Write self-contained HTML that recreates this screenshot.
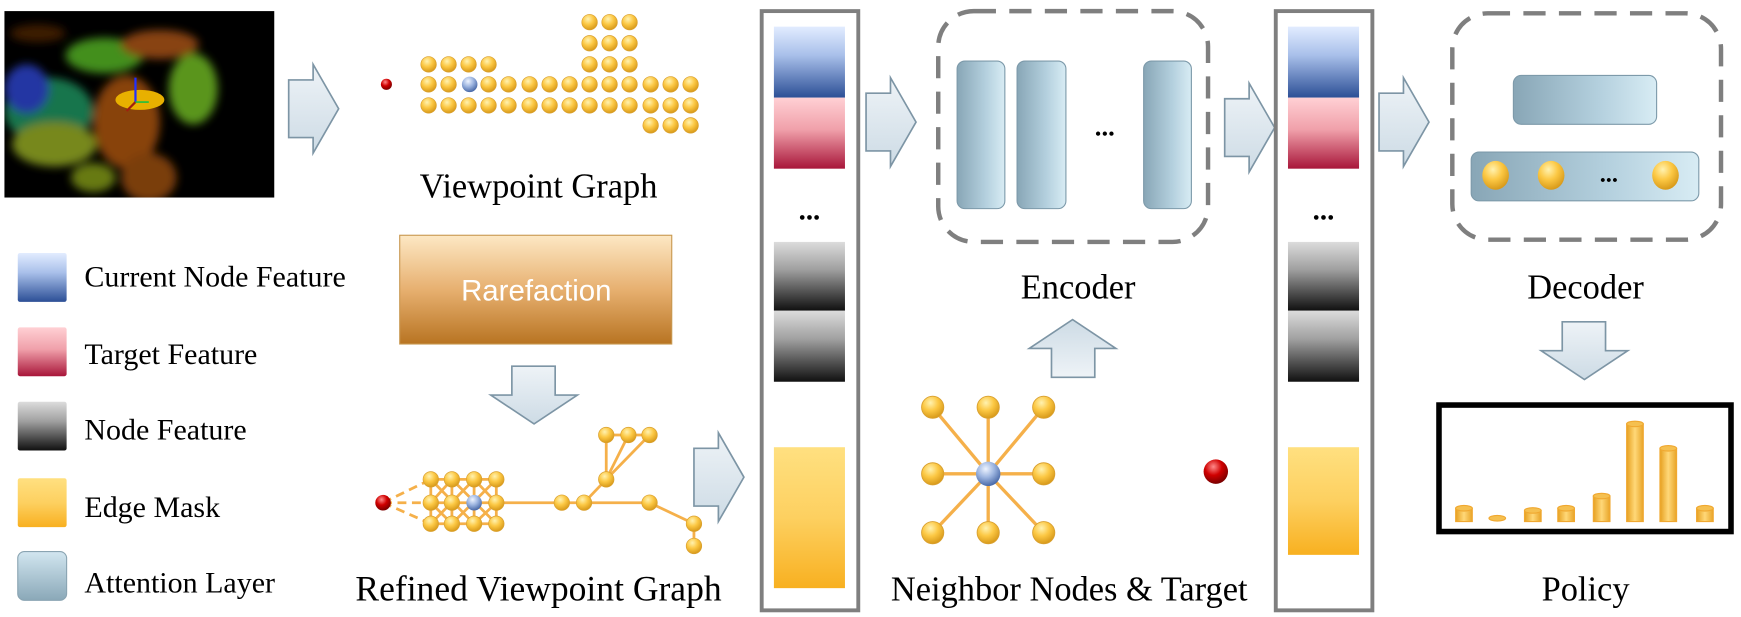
<!DOCTYPE html>
<html><head><meta charset="utf-8"><style>
html,body{margin:0;padding:0;background:#fff;width:1741px;height:617px;overflow:hidden}
svg{display:block}
text{font-family:"Liberation Serif",serif;fill:#000}
</style></head><body>
<svg width="1741" height="617" viewBox="0 0 1568 556" preserveAspectRatio="none" xmlns="http://www.w3.org/2000/svg">
<defs>
<radialGradient id="gy" cx="0.4" cy="0.3" r="0.7"><stop offset="0" stop-color="#fff2b0"/><stop offset="0.5" stop-color="#fcc844"/><stop offset="1" stop-color="#d89a1a"/></radialGradient>
<radialGradient id="gb" cx="0.4" cy="0.3" r="0.7"><stop offset="0" stop-color="#eef4ff"/><stop offset="0.5" stop-color="#9db5e0"/><stop offset="1" stop-color="#4a6aa8"/></radialGradient>
<radialGradient id="gr" cx="0.4" cy="0.3" r="0.7"><stop offset="0" stop-color="#ff8a8a"/><stop offset="0.5" stop-color="#d00000"/><stop offset="1" stop-color="#7a0000"/></radialGradient>
<linearGradient id="lblue" x1="0" y1="0" x2="0" y2="1"><stop offset="0" stop-color="#e2ecff"/><stop offset="0.4" stop-color="#a9c0ea"/><stop offset="1" stop-color="#2c4f96"/></linearGradient>
<linearGradient id="lpink" x1="0" y1="0" x2="0" y2="1"><stop offset="0" stop-color="#ffd0d4"/><stop offset="0.45" stop-color="#f0a0aa"/><stop offset="1" stop-color="#a8163a"/></linearGradient>
<linearGradient id="lgray" x1="0" y1="0" x2="0" y2="1"><stop offset="0" stop-color="#dcdcdc"/><stop offset="0.4" stop-color="#a0a0a0"/><stop offset="1" stop-color="#101010"/></linearGradient>
<linearGradient id="lyel" x1="0" y1="0" x2="0" y2="1"><stop offset="0" stop-color="#ffe080"/><stop offset="0.5" stop-color="#fdd060"/><stop offset="1" stop-color="#f8b020"/></linearGradient>
<linearGradient id="latt" x1="0" y1="0" x2="1" y2="0"><stop offset="0" stop-color="#88a6b6"/><stop offset="0.6" stop-color="#b4d0de"/><stop offset="1" stop-color="#d8ecf4"/></linearGradient>
<linearGradient id="latv" x1="0" y1="0" x2="0" y2="1"><stop offset="0" stop-color="#d2e6f0"/><stop offset="1" stop-color="#8aa8b8"/></linearGradient>
<linearGradient id="lor" x1="0" y1="0" x2="0" y2="1"><stop offset="0" stop-color="#fde8c4"/><stop offset="0.5" stop-color="#e7b070"/><stop offset="1" stop-color="#b87422"/></linearGradient>
<linearGradient id="larr" x1="0" y1="0" x2="0" y2="1"><stop offset="0" stop-color="#eef3f7"/><stop offset="1" stop-color="#cddbe5"/></linearGradient>
<linearGradient id="cyl" x1="0" y1="0" x2="1" y2="0"><stop offset="0" stop-color="#e6a020"/><stop offset="0.5" stop-color="#ffd878"/><stop offset="1" stop-color="#e8a428"/></linearGradient>
<filter id="bl" x="-20%" y="-20%" width="140%" height="140%"><feGaussianBlur stdDeviation="4"/></filter>
<g id="ny"><circle r="7" fill="url(#gy)" stroke="#d9a030" stroke-width="0.6"/></g>
<g id="nyb"><circle r="10" fill="url(#gy)" stroke="#d9a030" stroke-width="0.8"/></g>
<path id="arR" d="M0,14 H22 V0 L45,40 L22,80 V66 H0 Z" fill="url(#larr)" stroke="#7d95a5" stroke-width="1.5"/>
<path id="arD" d="M19,0 H58 V26 H78 L39,52 L0,26 H19 Z" fill="url(#larr)" stroke="#7d95a5" stroke-width="1.5"/>
</defs>

<!-- point cloud -->
<rect x="4" y="10" width="243" height="168" fill="#000"/>
<svg x="4" y="10" width="243" height="168" viewBox="0 0 243 168">
<g filter="url(#bl)" opacity="0.85">
<ellipse cx="40" cy="90" rx="40" ry="30" fill="#1a8a5a"/>
<ellipse cx="20" cy="70" rx="20" ry="22" fill="#2a40c0"/>
<ellipse cx="45" cy="120" rx="38" ry="20" fill="#8ca020"/>
<ellipse cx="110" cy="100" rx="30" ry="42" fill="#a05010"/>
<ellipse cx="130" cy="150" rx="25" ry="22" fill="#904810"/>
<ellipse cx="90" cy="40" rx="35" ry="16" fill="#50a820"/>
<ellipse cx="170" cy="70" rx="22" ry="32" fill="#6ab020"/>
<ellipse cx="140" cy="30" rx="35" ry="13" fill="#a05018"/>
<ellipse cx="30" cy="20" rx="25" ry="8" fill="#4a2206"/>
<ellipse cx="80" cy="150" rx="20" ry="13" fill="#7a9018"/>
</g>
<ellipse cx="122" cy="80" rx="22" ry="9" fill="#e8b000"/>
<line x1="118" y1="60" x2="118" y2="82" stroke="#2030ff" stroke-width="2"/>
<line x1="118" y1="82" x2="110" y2="90" stroke="#a02010" stroke-width="2"/>
<line x1="118" y1="82" x2="130" y2="82" stroke="#20c040" stroke-width="1.5"/>
</svg>

<use href="#arR" x="260" y="58"/>

<!-- viewpoint graph -->
<circle cx="348" cy="76" r="5" fill="url(#gr)"/>
<g>
<use href="#ny" x="386" y="58"/><use href="#ny" x="404" y="58"/><use href="#ny" x="422" y="58"/><use href="#ny" x="440" y="58"/>
<use href="#ny" x="531" y="20"/><use href="#ny" x="549" y="20"/><use href="#ny" x="567" y="20"/>
<use href="#ny" x="531" y="39"/><use href="#ny" x="549" y="39"/><use href="#ny" x="567" y="39"/>
<use href="#ny" x="531" y="58"/><use href="#ny" x="549" y="58"/><use href="#ny" x="567" y="58"/>
<use href="#ny" x="586" y="113"/><use href="#ny" x="604" y="113"/><use href="#ny" x="622" y="113"/>
<use href="#ny" x="386" y="76"/><use href="#ny" x="404" y="76"/><circle cx="423" cy="76" r="7" fill="url(#gb)"/><use href="#ny" x="440" y="76"/><use href="#ny" x="458" y="76"/><use href="#ny" x="477" y="76"/><use href="#ny" x="495" y="76"/><use href="#ny" x="513" y="76"/><use href="#ny" x="531" y="76"/><use href="#ny" x="549" y="76"/><use href="#ny" x="567" y="76"/><use href="#ny" x="586" y="76"/><use href="#ny" x="604" y="76"/><use href="#ny" x="622" y="76"/>
<use href="#ny" x="386" y="95"/><use href="#ny" x="404" y="95"/><use href="#ny" x="422" y="95"/><use href="#ny" x="440" y="95"/><use href="#ny" x="458" y="95"/><use href="#ny" x="477" y="95"/><use href="#ny" x="495" y="95"/><use href="#ny" x="513" y="95"/><use href="#ny" x="531" y="95"/><use href="#ny" x="549" y="95"/><use href="#ny" x="567" y="95"/><use href="#ny" x="586" y="95"/><use href="#ny" x="604" y="95"/><use href="#ny" x="622" y="95"/>
</g>
<text x="485" y="178" font-size="31" text-anchor="middle">Viewpoint Graph</text>

<!-- legend -->
<rect x="16" y="228" width="44" height="44" rx="2" fill="url(#lblue)"/>
<rect x="16" y="295" width="44" height="44" rx="2" fill="url(#lpink)"/>
<rect x="16" y="362" width="44" height="44" rx="2" fill="url(#lgray)"/>
<rect x="16" y="431" width="44" height="44" rx="2" fill="url(#lyel)"/>
<rect x="16" y="497" width="44" height="44" rx="6" fill="url(#latv)" stroke="#8aa4b2"/>
<text x="76" y="258" font-size="27">Current Node Feature</text>
<text x="76" y="328" font-size="27">Target Feature</text>
<text x="76" y="396" font-size="27">Node Feature</text>
<text x="76" y="466" font-size="27">Edge Mask</text>
<text x="76" y="534" font-size="27">Attention Layer</text>

<!-- rarefaction -->
<rect x="360" y="212" width="245" height="98" fill="url(#lor)" stroke="#c89850"/>
<text x="483" y="271" font-size="26.5" text-anchor="middle" style="font-family:'Liberation Sans',sans-serif;fill:#fff">Rarefaction</text>
<use href="#arD" x="442" y="330"/>

<!-- refined graph -->
<g stroke="#f5b04a" stroke-width="2.5" fill="none">
<path d="M345,453 L388,432 M345,453 L388,453 M345,453 L388,472" stroke-dasharray="8,5"/>
<path d="M388,432 H447 M388,453 H585 M388,472 H447 M388,432 V472 M407,432 V472 M427,432 V472 M447,432 V472"/>
<path d="M388,432 L427,472 M407,432 L447,472 M427,432 L447,453 M388,453 L407,472 M407,432 L388,453 M427,432 L388,472 M447,432 L407,472 M447,453 L427,472"/>
<path d="M526,453 L546,432 L546,392 M546,432 L566,392 M546,432 L585,392 M546,392 H585 M585,453 L625,472 V492"/>
</g>
<circle cx="345" cy="453" r="7" fill="url(#gr)"/>
<use href="#ny" x="388" y="432"/><use href="#ny" x="407" y="432"/><use href="#ny" x="427" y="432"/><use href="#ny" x="447" y="432"/>
<use href="#ny" x="388" y="453"/><use href="#ny" x="407" y="453"/><circle cx="427" cy="453" r="7" fill="url(#gb)"/><use href="#ny" x="447" y="453"/>
<use href="#ny" x="388" y="472"/><use href="#ny" x="407" y="472"/><use href="#ny" x="427" y="472"/><use href="#ny" x="447" y="472"/>
<use href="#ny" x="506" y="453"/><use href="#ny" x="526" y="453"/><use href="#ny" x="585" y="453"/>
<use href="#ny" x="546" y="432"/><use href="#ny" x="546" y="392"/><use href="#ny" x="566" y="392"/><use href="#ny" x="585" y="392"/>
<use href="#ny" x="625" y="472"/><use href="#ny" x="625" y="492"/>
<text x="485" y="541" font-size="32" text-anchor="middle">Refined Viewpoint Graph</text>

<use href="#arR" x="625" y="390"/>

<!-- left column -->
<rect x="686" y="10" width="87" height="540" fill="none" stroke="#7f7f7f" stroke-width="3.5"/>
<rect x="697" y="24" width="64" height="64" fill="url(#lblue)"/>
<rect x="697" y="88" width="64" height="64" fill="url(#lpink)"/>
<text x="729" y="198" font-size="26" text-anchor="middle" font-weight="bold">...</text>
<rect x="697" y="218" width="64" height="62" fill="url(#lgray)"/>
<rect x="697" y="280" width="64" height="64" fill="url(#lgray)"/>
<rect x="697" y="403" width="64" height="127" fill="url(#lyel)"/>

<use href="#arR" x="780" y="70"/>

<!-- encoder -->
<rect x="845" y="10" width="243" height="208" rx="32" fill="none" stroke="#7f7f7f" stroke-width="4" stroke-dasharray="20,12"/>
<rect x="862" y="55" width="43" height="133" rx="7" fill="url(#latt)" stroke="#7d9aaa"/>
<rect x="916" y="55" width="44" height="133" rx="7" fill="url(#latt)" stroke="#7d9aaa"/>
<rect x="1030" y="55" width="43" height="133" rx="7" fill="url(#latt)" stroke="#7d9aaa"/>
<text x="995" y="122" font-size="24" text-anchor="middle" font-weight="bold">...</text>
<text x="971" y="269" font-size="31" text-anchor="middle">Encoder</text>
<g transform="translate(1005,340) rotate(180)"><use href="#arD"/></g>

<!-- neighbor star -->
<g stroke="#f5b04a" stroke-width="3">
<line x1="890" y1="427" x2="840" y2="367"/><line x1="890" y1="427" x2="890" y2="367"/><line x1="890" y1="427" x2="940" y2="367"/>
<line x1="890" y1="427" x2="840" y2="427"/><line x1="890" y1="427" x2="940" y2="427"/>
<line x1="890" y1="427" x2="840" y2="480"/><line x1="890" y1="427" x2="890" y2="480"/><line x1="890" y1="427" x2="940" y2="480"/>
</g>
<use href="#nyb" x="840" y="367"/><use href="#nyb" x="890" y="367"/><use href="#nyb" x="940" y="367"/>
<use href="#nyb" x="840" y="427"/><use href="#nyb" x="940" y="427"/>
<use href="#nyb" x="840" y="480"/><use href="#nyb" x="890" y="480"/><use href="#nyb" x="940" y="480"/>
<circle cx="890" cy="427" r="11" fill="url(#gb)"/>
<circle cx="1095" cy="425" r="11" fill="url(#gr)"/>
<text x="963" y="541" font-size="31" text-anchor="middle">Neighbor Nodes &amp; Target</text>

<use href="#arR" x="1103" y="75"/>

<!-- right column -->
<rect x="1149" y="10" width="87" height="540" fill="none" stroke="#7f7f7f" stroke-width="3.5"/>
<rect x="1160" y="24" width="64" height="64" fill="url(#lblue)"/>
<rect x="1160" y="88" width="64" height="64" fill="url(#lpink)"/>
<text x="1192" y="198" font-size="26" text-anchor="middle" font-weight="bold">...</text>
<rect x="1160" y="218" width="64" height="62" fill="url(#lgray)"/>
<rect x="1160" y="280" width="64" height="64" fill="url(#lgray)"/>
<rect x="1160" y="403" width="64" height="97" fill="url(#lyel)"/>

<use href="#arR" x="1242" y="70"/>

<!-- decoder -->
<rect x="1308" y="12" width="242" height="204" rx="32" fill="none" stroke="#7f7f7f" stroke-width="4" stroke-dasharray="20,12"/>
<rect x="1363" y="68" width="129" height="44" rx="7" fill="url(#latt)" stroke="#7d9aaa"/>
<rect x="1325" y="137" width="205" height="44" rx="7" fill="url(#latt)" stroke="#7d9aaa"/>
<ellipse cx="1347" cy="158" rx="12" ry="13" fill="url(#gy)"/>
<ellipse cx="1397" cy="158" rx="12" ry="13" fill="url(#gy)"/>
<ellipse cx="1500" cy="158" rx="12" ry="13" fill="url(#gy)"/>
<text x="1449" y="164" font-size="22" text-anchor="middle" font-weight="bold">...</text>
<text x="1428" y="269" font-size="31" text-anchor="middle">Decoder</text>
<use href="#arD" x="1388" y="290"/>

<!-- policy -->
<rect x="1296" y="365" width="263" height="114" fill="#fff" stroke="#000" stroke-width="5"/>
<g stroke="#f0a830" stroke-width="1">
<rect x="1311" y="458" width="15" height="12" fill="url(#cyl)"/><ellipse cx="1318.5" cy="458" rx="7.5" ry="2.5" fill="#f5c050"/>
<ellipse cx="1348.5" cy="467" rx="7.5" ry="2.5" fill="#f5c050"/>
<rect x="1373" y="460" width="15" height="10" fill="url(#cyl)"/><ellipse cx="1380.5" cy="460" rx="7.5" ry="2.5" fill="#f5c050"/>
<rect x="1403" y="458" width="15" height="12" fill="url(#cyl)"/><ellipse cx="1410.5" cy="458" rx="7.5" ry="2.5" fill="#f5c050"/>
<rect x="1435" y="447" width="15" height="23" fill="url(#cyl)"/><ellipse cx="1442.5" cy="447" rx="7.5" ry="2.5" fill="#f5c050"/>
<rect x="1465" y="382" width="15" height="88" fill="url(#cyl)"/><ellipse cx="1472.5" cy="382" rx="7.5" ry="2.5" fill="#f5c050"/>
<rect x="1495" y="404" width="15" height="66" fill="url(#cyl)"/><ellipse cx="1502.5" cy="404" rx="7.5" ry="2.5" fill="#f5c050"/>
<rect x="1528" y="458" width="15" height="12" fill="url(#cyl)"/><ellipse cx="1535.5" cy="458" rx="7.5" ry="2.5" fill="#f5c050"/>
</g>
<text x="1428" y="541" font-size="31" text-anchor="middle">Policy</text>
</svg>
</body></html>
